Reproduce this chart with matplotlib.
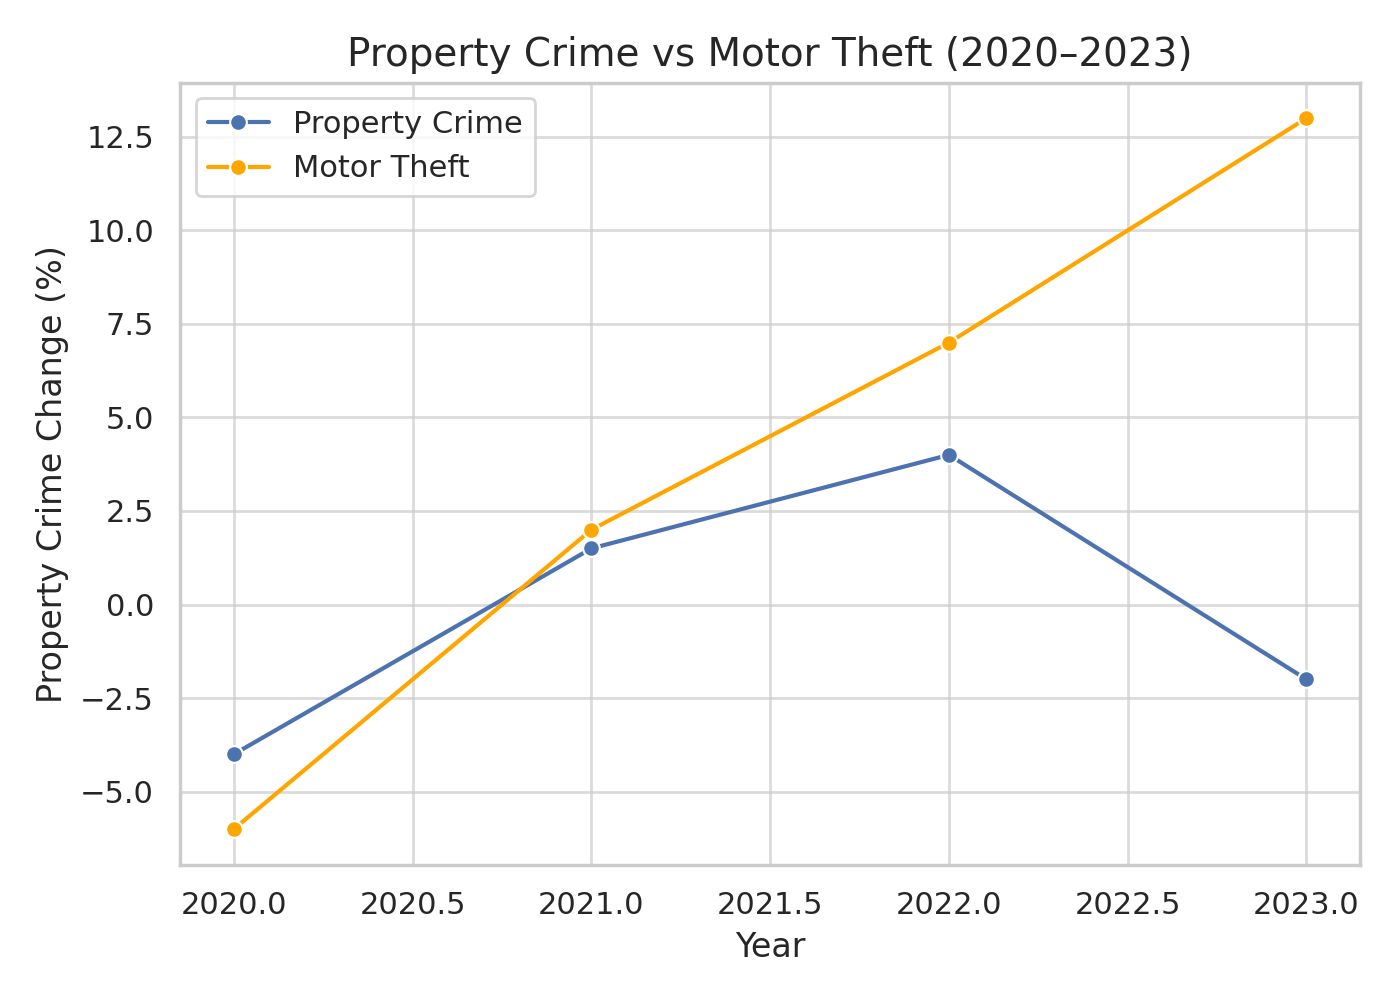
import matplotlib
matplotlib.use("Agg")
import matplotlib.pyplot as plt
import seaborn as sns

years = [2020, 2021, 2022, 2023]
property_crime = [-4.0, 1.5, 4.0, -2.0]
motor_theft = [-6.0, 2.0, 7.0, 13.0]

sns.set_theme(style="whitegrid")
fig, ax = plt.subplots(figsize=(7, 5), dpi=200)
sns.lineplot(x=years, y=property_crime, marker="o", color="#4C72B0", label="Property Crime", ax=ax)
sns.lineplot(x=years, y=motor_theft, marker="o", color="orange", label="Motor Theft", ax=ax)
ax.set_title("Property Crime vs Motor Theft (2020–2023)", fontsize=14)
ax.set_xlabel("Year")
ax.set_ylabel("Property Crime Change (%)")
ax.grid(True, alpha=0.7)
ax.legend(loc="upper left")
fig.tight_layout()
fig.savefig("out.png", dpi=200)
